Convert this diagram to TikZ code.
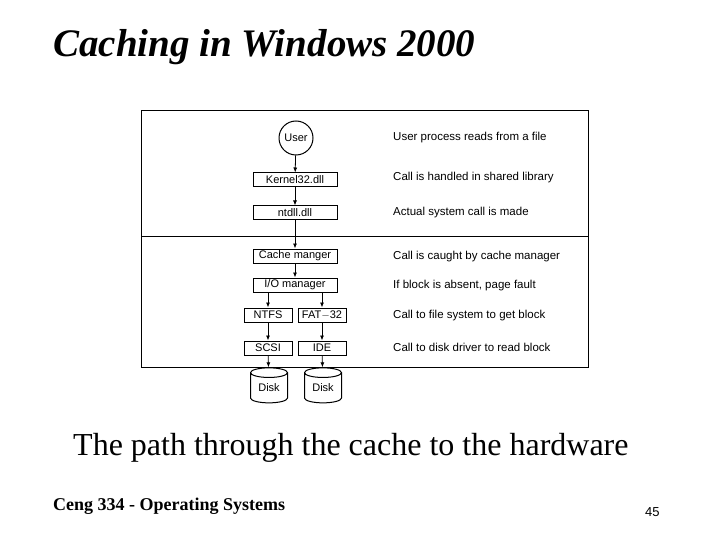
\documentclass[tikz,border=0pt]{standalone}
\usepackage{fontspec}
\setmainfont{Liberation Serif}
\setsansfont{Liberation Sans}
\usetikzlibrary{arrows.meta,shapes.geometric}
\begin{document}
\begin{tikzpicture}[x=1pt,y=-1pt,
  box/.style={draw,line width=1pt,minimum height=14pt,inner sep=0pt,font=\sffamily\fontsize{11}{12}\selectfont},
  desc/.style={anchor=west,inner sep=0pt,font=\sffamily\fontsize{11.5}{12}\selectfont},
  arr/.style={-{Latex[length=5pt,width=4pt]},line width=0.8pt},
  disk/.style={draw,cylinder,shape border rotate=90,aspect=0.45,minimum width=37pt,minimum height=35pt,inner sep=0pt,line width=1pt,font=\sffamily\fontsize{11}{12}\selectfont}]
\useasboundingbox (0,0) rectangle (720,540);
\node[anchor=west,inner sep=0pt,font=\bfseries\itshape\fontsize{39}{44}\selectfont] (title) at (53,47) {Caching in Windows 2000};
\draw[line width=1pt] (141,111) rectangle (588,367);
\draw[line width=1pt] (141,236) -- (588,236);
\node[draw,circle,line width=1pt,minimum size=34pt,inner sep=0pt,font=\sffamily\fontsize{11}{12}\selectfont] (user) at (296,138) {User};
\node[box,minimum width=84pt] (k32) at (295,180) {Kernel32.dll};
\node[box,minimum width=84pt] (nt) at (295,213) {ntdll.dll};
\node[box,minimum width=84pt] (cm) at (295,256) {Cache manger};
\node[box,minimum width=84pt] (io) at (295,285) {I/O manager};
\node[box,minimum width=48pt] (ntfs) at (268,315) {NTFS};
\node[box,minimum width=48pt] (fat) at (322,315) {FAT$-$32};
\node[box,minimum width=48pt] (scsi) at (268,348) {SCSI};
\node[box,minimum width=48pt] (ide) at (322,348) {IDE};
\node[disk] (d1) at (269,388) {Disk};
\node[disk] (d2) at (323,388) {Disk};
\draw[arr] (user) -- (k32);
\draw[arr] (k32) -- (nt);
\draw[arr] (nt) -- (cm);
\draw[arr] (cm) -- (io);
\draw[arr] (io.south -| ntfs) -- (ntfs);
\draw[arr] (io.south -| fat) -- (fat);
\draw[arr] (ntfs) -- (scsi);
\draw[arr] (fat) -- (ide);
\draw[arr] (scsi) -- (d1);
\draw[arr] (ide) -- (d2);
\node[desc] (t1) at (393,138) {User process reads from a file};
\node[desc] (t2) at (393,178) {Call is handled in shared library};
\node[desc] (t3) at (393,213) {Actual system call is made};
\node[desc] (t4) at (393,257) {Call is caught by cache manager};
\node[desc] (t5) at (393,286) {If block is absent, page fault};
\node[desc] (t6) at (393,316) {Call to file system to get block};
\node[desc] (t7) at (393,347) {Call to disk driver to read block};
\node[anchor=west,inner sep=0pt,font=\fontsize{32}{36}\selectfont] (cap) at (73,448) {The path through the cache to the hardware};
\node[anchor=west,inner sep=0pt,font=\bfseries\fontsize{18}{20}\selectfont] (foot) at (53,506) {Ceng 334 - Operating Systems};
\node[anchor=west,inner sep=0pt,font=\sffamily\fontsize{13}{15}\selectfont] (pg) at (645,512) {45};
\end{tikzpicture}
\end{document}
